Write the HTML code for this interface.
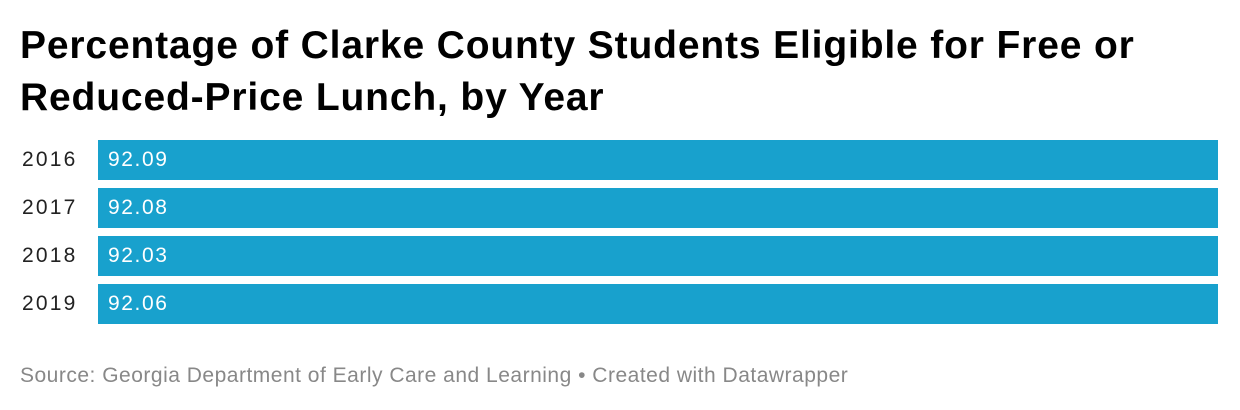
<!DOCTYPE html>
<html><head><meta charset="utf-8"><style>
body{margin:0;width:1240px;height:410px;background:#fff;font-family:"Liberation Sans",sans-serif;position:relative;overflow:hidden}
h1{position:absolute;left:20px;top:20px;margin:0;font-size:39px;line-height:52px;font-weight:bold;color:#000;letter-spacing:0.85px;white-space:nowrap}
.row{position:absolute;left:0;height:40px;width:1240px}
.lab{position:absolute;left:22px;top:0;line-height:40px;font-size:21px;color:#222;letter-spacing:2.2px}
.bar{position:absolute;left:98px;top:0;width:1120px;height:40px;background:#18a1cd}
.val{position:absolute;left:108px;top:0;line-height:40px;font-size:21px;color:#fff;letter-spacing:1.6px}
.src{position:absolute;left:20px;top:364px;font-size:21px;color:#888;letter-spacing:0.5px;white-space:nowrap}
</style></head><body>
<h1>Percentage of Clarke County Students Eligible for Free or<br>Reduced-Price Lunch, by Year</h1>
<div class="row" style="top:140px"><div class="lab">2016</div><div class="bar"></div><div class="val">92.09</div></div>
<div class="row" style="top:188px"><div class="lab">2017</div><div class="bar"></div><div class="val">92.08</div></div>
<div class="row" style="top:236px"><div class="lab">2018</div><div class="bar"></div><div class="val">92.03</div></div>
<div class="row" style="top:284px"><div class="lab">2019</div><div class="bar"></div><div class="val">92.06</div></div>
<div class="src">Source: Georgia Department of Early Care and Learning • Created with Datawrapper</div>
</body></html>
